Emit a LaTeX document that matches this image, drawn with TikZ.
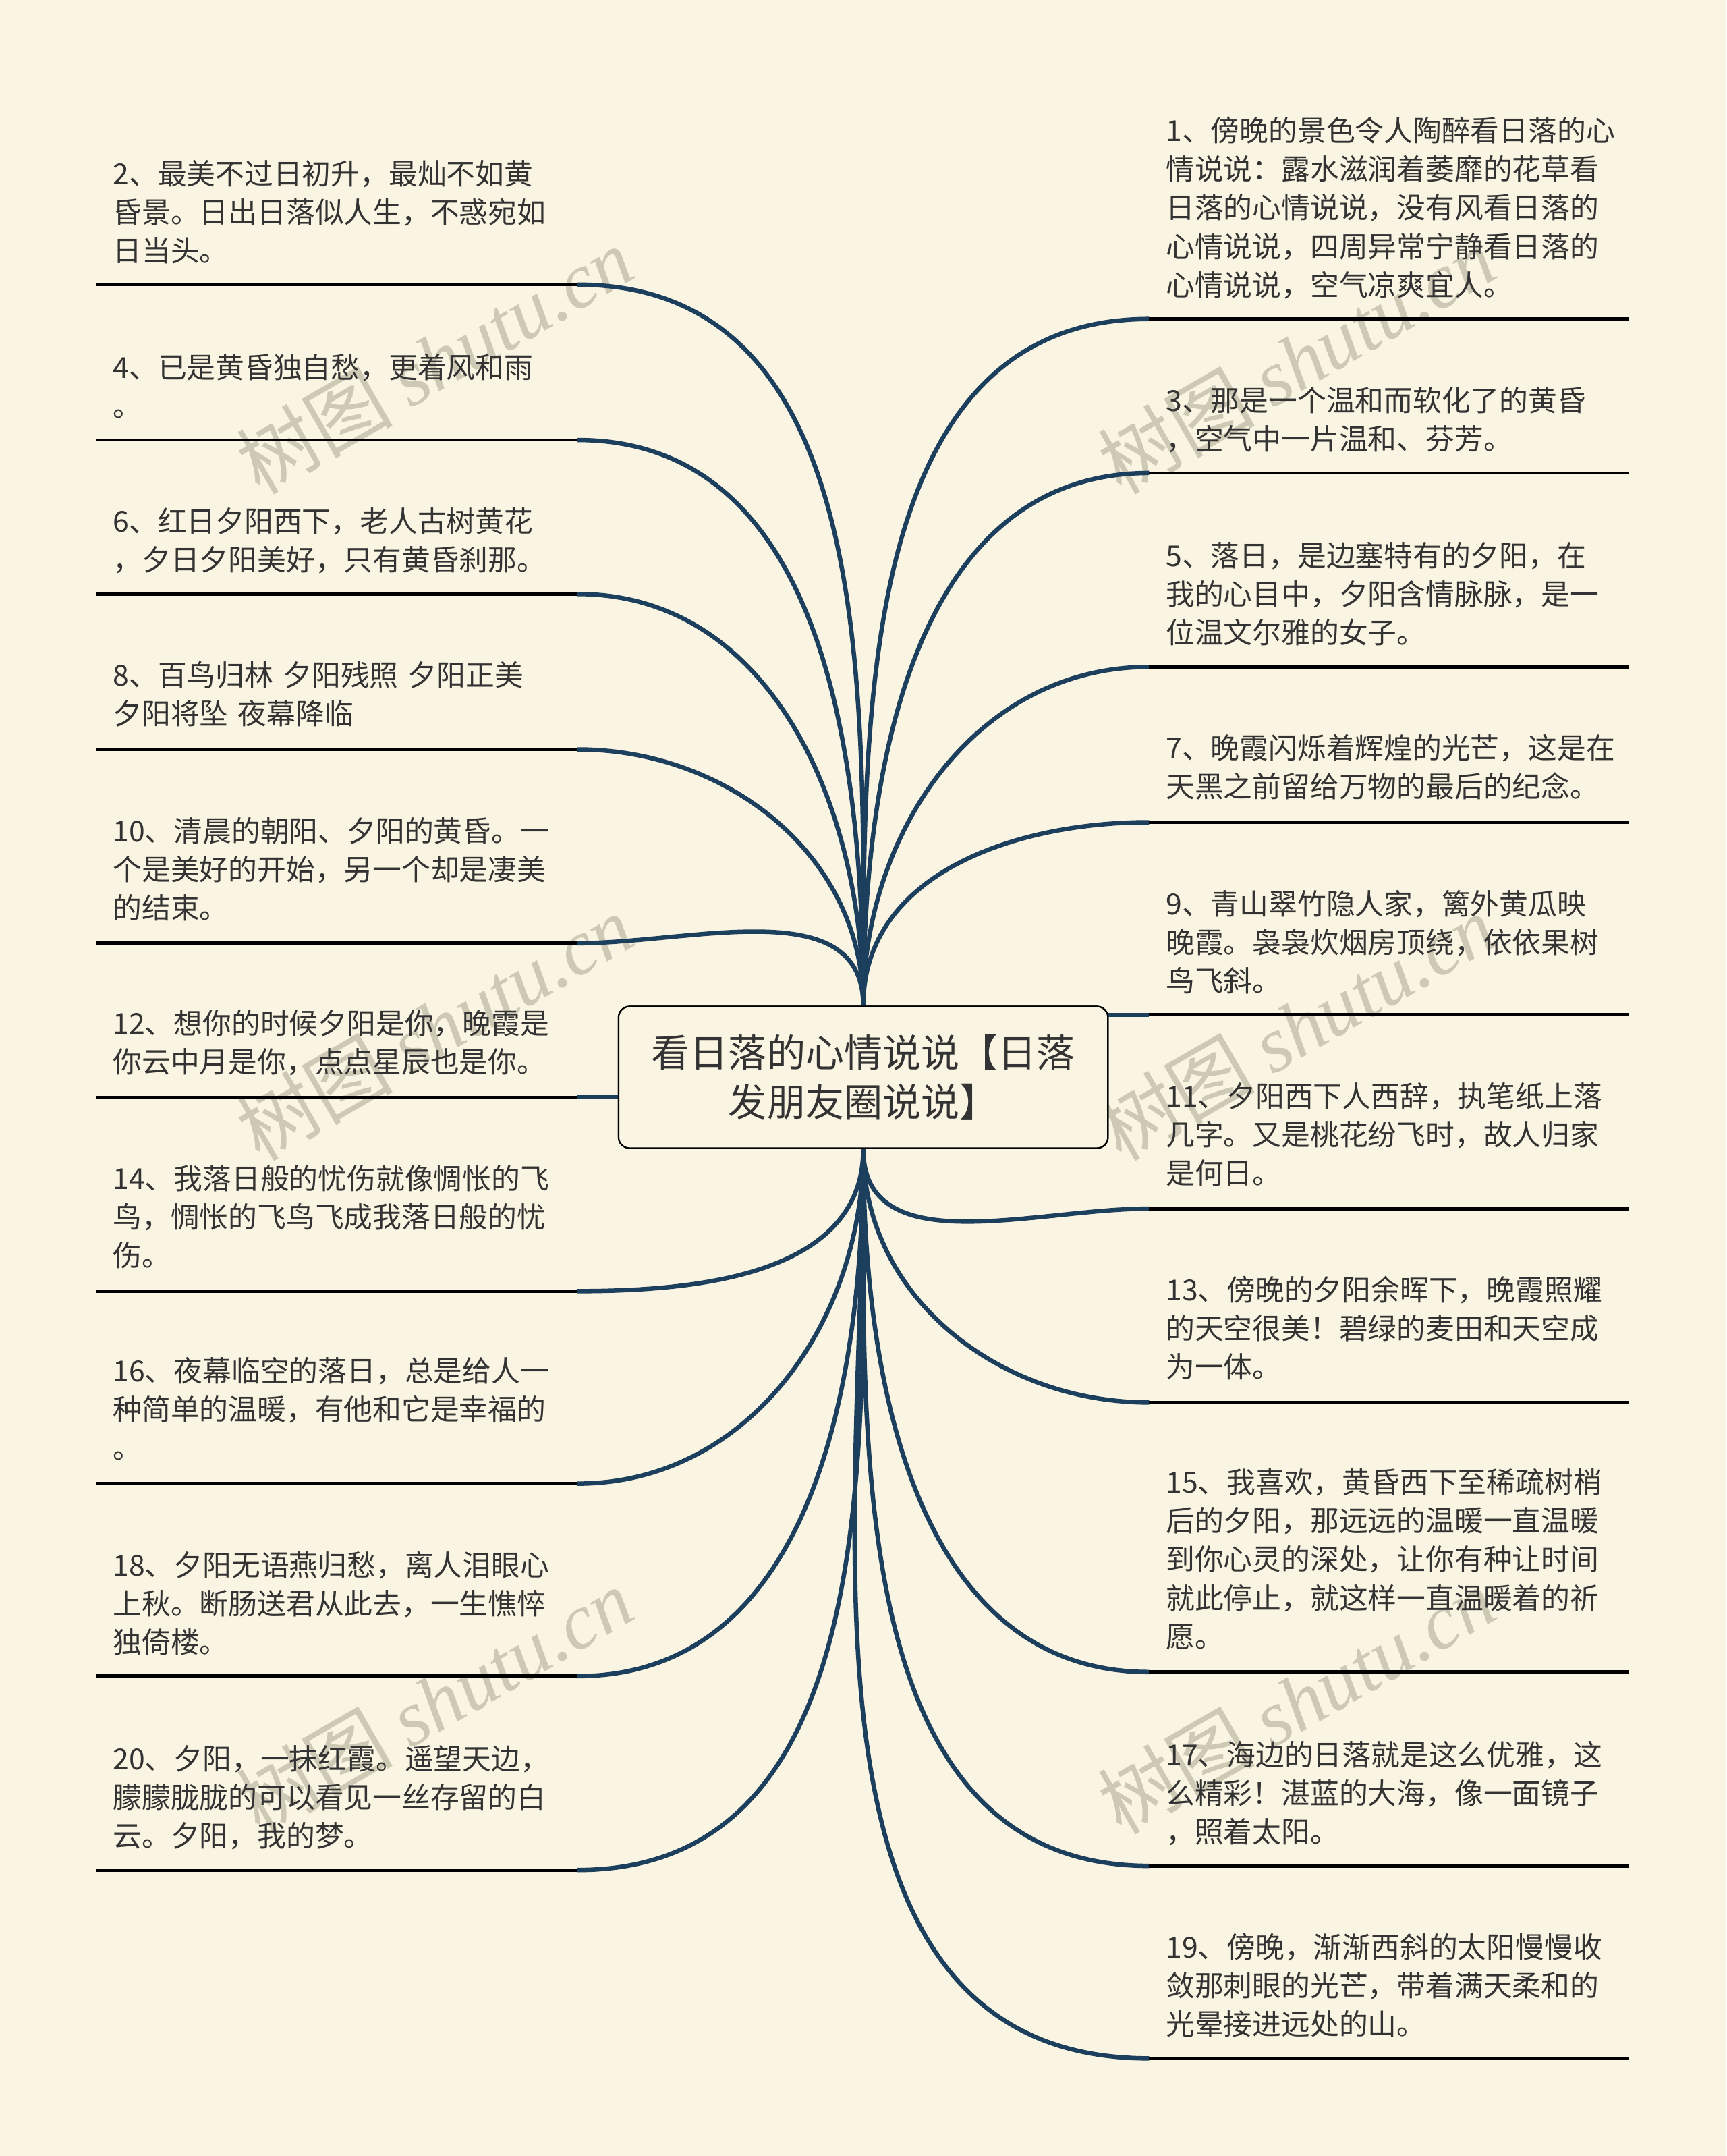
\documentclass[tikz,border=0pt]{standalone}
\usepackage{fontspec}
\setmainfont{Noto Sans CJK SC}
\newfontfamily\wmlatin{Liberation Serif}
\definecolor{bgc}{HTML}{FAF5E2}
\definecolor{navy}{HTML}{1C3F5E}
\definecolor{txtc}{HTML}{333333}
\definecolor{wmc}{HTML}{CDC9B4}
\begin{document}
\begin{tikzpicture}[x=1pt,y=-1pt,
  conn/.style={draw=navy, line width=3.2pt},
  uline/.style={draw=black, line width=2.4pt},
  txt/.style={anchor=base west, inner sep=0pt, text width=420pt, align=left, text=txtc, font=\fontsize{21}{28}\selectfont},
  wm/.style={text=wmc, rotate=30, inner sep=0pt, font=\fontsize{57}{57}\selectfont},
  rootbox/.style={draw=black, line width=1.1pt, fill=bgc, rounded corners=8pt, minimum width=356pt, minimum height=103pt, inner sep=0pt, align=center, text=txtc, font=\fontsize{28}{36}\selectfont}
]
\useasboundingbox (0,0) rectangle (1256,1568);
\fill[bgc] (0,0) rectangle (1256,1568);

% watermarks
\node[wm] (w1) at (316,262) {树图 {\wmlatin\itshape shutu.cn}};
\node[wm] (w2) at (316,747) {树图 {\wmlatin\itshape shutu.cn}};
\node[wm] (w3) at (316,1237) {树图 {\wmlatin\itshape shutu.cn}};
\node[wm] (w4) at (943,262) {树图 {\wmlatin\itshape shutu.cn}};
\node[wm] (w5) at (943,747) {树图 {\wmlatin\itshape shutu.cn}};
\node[wm] (w6) at (943,1237) {树图 {\wmlatin\itshape shutu.cn}};

% root node
\node[rootbox] (root) at (628,783.5) {看日落的心情说说【日落\\发朋友圈说说】};

% underline end points (left)
\foreach \n/\y in {2/207,4/320,6/432,8/545,10/686,12/798,14/939,16/1079,18/1219,20/1360}{
  \coordinate (a\n) at (420,\y);
  \coordinate (b\n) at (70,\y);
}
% underline end points (right)
\foreach \n/\y in {1/232,3/344,5/485,7/598,9/738,11/879,13/1020,15/1216,17/1357,19/1497}{
  \coordinate (a\n) at (836,\y);
  \coordinate (b\n) at (1185,\y);
}

% connectors
\foreach \n in {2,4,6,8,10}{ \draw[conn] (root.north) to[out=90,in=0] (a\n); }
\foreach \n in {14,16,18,20}{ \draw[conn] (root.south) to[out=-90,in=0] (a\n); }
\foreach \n in {1,3,5,7}{ \draw[conn] (root.north) to[out=90,in=180] (a\n); }
\foreach \n in {11,13,15,17,19}{ \draw[conn] (root.south) to[out=-90,in=180] (a\n); }
\draw[conn] (root.west |- a12) -- (a12);
\draw[conn] (root.east |- a9) -- (a9);

% underlines
\foreach \n in {1,2,3,4,5,6,7,8,9,10,11,12,13,14,15,16,17,18,19,20}{ \draw[uline] (b\n) -- (a\n); }

% redraw root on top
\node[rootbox] (root2) at (628,783.5) {看日落的心情说说【日落\\发朋友圈说说】};

% left texts
\node[txt] (t2) at (82,134) {2、最美不过日初升，最灿不如黄\\昏景。日出日落似人生，不惑宛如\\日当头。};
\node[txt] (t4) at (82,275) {4、已是黄昏独自愁，更着风和雨\\。};
\node[txt] (t6) at (82,387) {6、红日夕阳西下，老人古树黄花\\，夕日夕阳美好，只有黄昏刹那。};
\node[txt] (t8) at (82,499) {8、百鸟归林 夕阳残照 夕阳正美\\夕阳将坠 夜幕降临};
\node[txt] (t10) at (82,612) {10、清晨的朝阳、夕阳的黄昏。一\\个是美好的开始，另一个却是凄美\\的结束。};
\node[txt] (t12) at (82,752) {12、想你的时候夕阳是你，晚霞是\\你云中月是你，点点星辰也是你。};
\node[txt] (t14) at (82,865) {14、我落日般的忧伤就像惆怅的飞\\鸟，惆怅的飞鸟飞成我落日般的忧\\伤。};
\node[txt] (t16) at (82,1005) {16、夜幕临空的落日，总是给人一\\种简单的温暖，有他和它是幸福的\\。};
\node[txt] (t18) at (82,1146) {18、夕阳无语燕归愁，离人泪眼心\\上秋。断肠送君从此去，一生憔悴\\独倚楼。};
\node[txt] (t20) at (82,1287) {20、夕阳，一抹红霞。遥望天边，\\朦朦胧胧的可以看见一丝存留的白\\云。夕阳，我的梦。};

% right texts
\node[txt] (t1) at (848,103) {1、傍晚的景色令人陶醉看日落的心\\情说说：露水滋润着萎靡的花草看\\日落的心情说说，没有风看日落的\\心情说说，四周异常宁静看日落的\\心情说说，空气凉爽宜人。};
\node[txt] (t3) at (848,299) {3、那是一个温和而软化了的黄昏\\，空气中一片温和、芬芳。};
\node[txt] (t5) at (848,412) {5、落日，是边塞特有的夕阳，在\\我的心目中，夕阳含情脉脉，是一\\位温文尔雅的女子。};
\node[txt] (t7) at (848,552) {7、晚霞闪烁着辉煌的光芒，这是在\\天黑之前留给万物的最后的纪念。};
\node[txt] (t9) at (848,665) {9、青山翠竹隐人家，篱外黄瓜映\\晚霞。袅袅炊烟房顶绕，依依果树\\鸟飞斜。};
\node[txt] (t11) at (848,805) {11、夕阳西下人西辞，执笔纸上落\\几字。又是桃花纷飞时，故人归家\\是何日。};
\node[txt] (t13) at (848,946) {13、傍晚的夕阳余晖下，晚霞照耀\\的天空很美！碧绿的麦田和天空成\\为一体。};
\node[txt] (t15) at (848,1086) {15、我喜欢，黄昏西下至稀疏树梢\\后的夕阳，那远远的温暖一直温暖\\到你心灵的深处，让你有种让时间\\就此停止，就这样一直温暖着的祈\\愿。};
\node[txt] (t17) at (848,1284) {17、海边的日落就是这么优雅，这\\么精彩！湛蓝的大海，像一面镜子\\，照着太阳。};
\node[txt] (t19) at (848,1424) {19、傍晚，渐渐西斜的太阳慢慢收\\敛那刺眼的光芒，带着满天柔和的\\光晕接进远处的山。};
\end{tikzpicture}
\end{document}
